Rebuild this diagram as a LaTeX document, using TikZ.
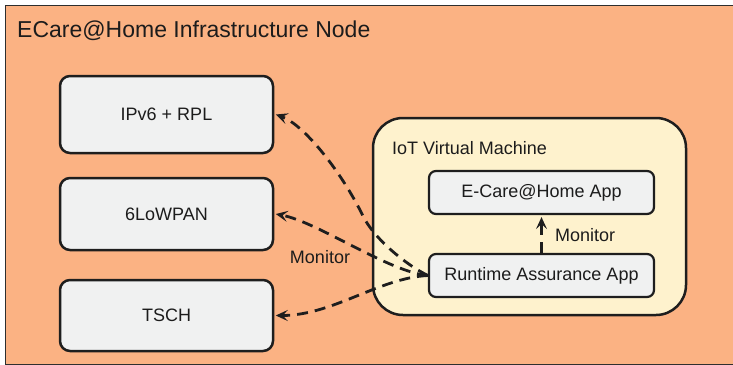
\documentclass[tikz,border=0pt]{standalone}
\usepackage{fontspec}
\setmainfont{Liberation Sans}
\usetikzlibrary{arrows.meta}

\definecolor{infrafill}{HTML}{FBB283}
\definecolor{vmfill}{HTML}{FEF2CD}
\definecolor{boxfill}{HTML}{F0F1F1}
\definecolor{outline}{HTML}{1E1E1E}
\definecolor{frameline}{HTML}{2E2E2E}
\definecolor{ink}{HTML}{1C1C1C}

\begin{document}
\begin{tikzpicture}[x=1pt,y=-1pt,
  layerbox/.style={draw=outline, line width=2.5pt, fill=boxfill, rounded corners=10pt,
    minimum width=213pt, text=ink, font=\fontsize{18}{21}\selectfont, inner sep=0pt},
  appbox/.style={draw=outline, line width=2.2pt, fill=boxfill, rounded corners=7pt,
    minimum width=225pt, minimum height=43pt, text=ink, font=\fontsize{18}{21}\selectfont, inner sep=0pt},
  vmbox/.style={draw=outline, line width=2.5pt, fill=vmfill, rounded corners=30pt,
    minimum width=313pt, minimum height=197pt, inner sep=0pt},
  monitor/.style={draw=outline, line width=2.8pt, dash pattern=on 11pt off 7pt,
    -{Stealth[length=12pt,width=11pt,inset=5pt]}},
  lbl/.style={text=ink, font=\fontsize{18}{21}\selectfont, inner sep=0pt}
]
\useasboundingbox (0,0) rectangle (733,364);

% infrastructure node frame (runs past the right and bottom edges)
\path[fill=infrafill, draw=frameline, line width=1.8pt] (5.5,5.5) rectangle (760,364.8);
\node[anchor=base west, text=ink, font=\fontsize{23}{27}\selectfont, inner sep=0pt]
  (title) at (17,37.5) {ECare@Home Infrastructure Node};

% network stack layers
\node[layerbox, minimum height=77pt] (ipv6) at (166.5,114.5) {IPv6 + RPL};
\node[layerbox, minimum height=72pt] (lowpan) at (166.5,214) {6LoWPAN};
\node[layerbox, minimum height=71pt] (tsch) at (166.5,315.5) {TSCH};

% IoT virtual machine and its applications
\node[vmbox] (vm) at (529.5,216.5) {};
\node[lbl, anchor=base west] (vmlabel) at (392,154) {IoT Virtual Machine};
\node[appbox] (ecare) at (541.5,192.5) {E-Care@Home App};
\node[appbox] (rt) at (541.5,275.5) {Runtime Assurance App};

% monitoring connectors
\coordinate (bend) at (363,216);
\draw[monitor] (rt.west) .. controls +(-22.5,-11) and +(11,22.5) .. (bend)
  .. controls +(-22,-45) and +(28,10) .. ([xshift=1.5pt]ipv6.east);
\draw[monitor] (rt.west) .. controls +(-39,-3.5) and +(42,8) .. ([xshift=1.5pt]lowpan.east);
\draw[monitor] (rt.west) .. controls +(-49,2.5) and +(57,0) .. ([xshift=1.5pt]tsch.east);
\draw[monitor, shorten >=2pt] (rt.north) -- (ecare.south);

\node[lbl] (monleft) at (320,257) {Monitor};
\node[lbl, anchor=west] (monright) at (555,235) {Monitor};
\end{tikzpicture}
\end{document}
